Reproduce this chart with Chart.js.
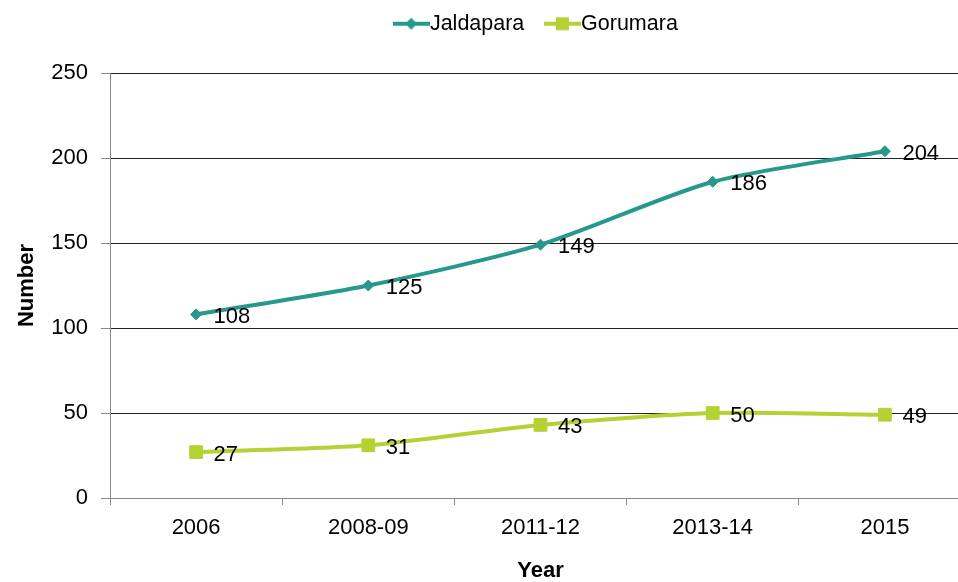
<!DOCTYPE html>
<html>
<head>
<meta charset="utf-8">
<script src="https://cdn.jsdelivr.net/npm/chart.js@4"></script>
<style>
  html, body { margin: 0; padding: 0; overflow: hidden; background: #fff; }
  canvas { display: block; }
</style>
</head>
<body>
<canvas id="line" width="981" height="582"></canvas>
<script>
const years = ['2006', '2008-09', '2011-12', '2013-14', '2015']
const jaldapara = [108, 125, 149, 186, 204]
const gorumara = [27, 31, 43, 50, 49]

const teal = '#27998c'
const lime = '#b5d234'
const font = '"Liberation Sans", Arial, sans-serif'

Chart.defaults.color = '#000'
Chart.defaults.font.family = font

// legend swatch: short line with the marker in the middle
function swatch(color, shape) {
    const c = document.createElement('canvas')
    c.width = 37
    c.height = 16
    const g = c.getContext('2d')
    g.strokeStyle = color
    g.lineWidth = 4
    g.beginPath()
    g.moveTo(0, 8)
    g.lineTo(37, 8)
    g.stroke()
    g.fillStyle = color
    if (shape === 'diamond') {
        g.beginPath()
        g.moveTo(18.5, 2)
        g.lineTo(24.5, 8)
        g.lineTo(18.5, 14)
        g.lineTo(12.5, 8)
        g.closePath()
        g.fill()
    } else {
        g.fillRect(12, 1.5, 13, 13)
    }
    return c
}
const swatches = [swatch(teal, 'diamond'), swatch(lime, 'square')]

// numbers next to each point
const valueLabels = {
    id: 'valueLabels',
    afterDatasetsDraw(chart) {
        const ctx = chart.ctx
        ctx.save()
        ctx.font = '22px ' + font
        ctx.fillStyle = '#000'
        ctx.textBaseline = 'middle'
        chart.data.datasets.forEach((ds, i) => {
            chart.getDatasetMeta(i).data.forEach((pt, j) => {
                ctx.fillText(ds.data[j], pt.x + 17.5, pt.y + 2.5)
            })
        })
        ctx.restore()
    }
}

const ctx = document.getElementById('line')
new Chart(ctx, {
    type: 'line',
    data: {
        labels: years,
        datasets: [{
            label: 'Jaldapara',
            data: jaldapara,
            borderColor: teal,
            backgroundColor: teal,
            borderWidth: 4,
            tension: 0.25,
            pointStyle: 'rectRot',
            pointRadius: 5.5,
            pointBorderWidth: 1,
            pointBackgroundColor: teal,
            pointBorderColor: teal
        }, {
            label: 'Gorumara',
            data: gorumara,
            borderColor: lime,
            backgroundColor: lime,
            borderWidth: 4,
            tension: 0.25,
            pointStyle: 'rect',
            pointRadius: 9,
            pointBorderWidth: 1,
            pointBackgroundColor: lime,
            pointBorderColor: lime
        }]
    },
    options: {
        animation: false,
        responsive: false,
        layout: { padding: { top: -17, right: 1, bottom: 0, left: 0 } },
        plugins: {
            tooltip: { enabled: false },
            legend: {
                position: 'top',
                fullSize: false,
                labels: {
                    usePointStyle: true,
                    boxWidth: 16,
                    padding: 30,
                    font: { size: 21.5 },
                    generateLabels(chart) {
                        const items = Chart.defaults.plugins.legend.labels.generateLabels(chart)
                        items.forEach((it, i) => { it.pointStyle = swatches[i] })
                        return items
                    }
                }
            },
            // empty spacer between the legend and the plot
            subtitle: {
                display: true,
                text: '',
                weight: 500,
                fullSize: false,
                padding: 0,
                font: { size: 28.5, lineHeight: 1 }
            }
        },
        scales: {
            x: {
                offset: true,
                afterFit(scale) { scale.height = 84 },
                grid: {
                    offset: true,
                    drawOnChartArea: false,
                    tickLength: 7,
                    tickColor: '#888'
                },
                border: { color: '#888' },
                ticks: { padding: 10, font: { size: 22 } },
                title: {
                    display: true,
                    text: 'Year',
                    padding: { top: 0, bottom: 0 },
                    font: { size: 22, weight: 'bold', lineHeight: 1 }
                }
            },
            y: {
                min: 0,
                max: 250,
                afterFit(scale) { scale.width = 110 },
                grid: {
                    color: '#222',
                    tickLength: 9,
                    tickColor: '#888'
                },
                border: { color: '#888' },
                ticks: { stepSize: 50, padding: 13, font: { size: 22 } },
                title: {
                    display: true,
                    text: 'Number',
                    padding: { top: 14, bottom: 0 },
                    font: { size: 22, weight: 'bold' }
                }
            }
        }
    },
    plugins: [valueLabels]
})
</script>
</body>
</html>
